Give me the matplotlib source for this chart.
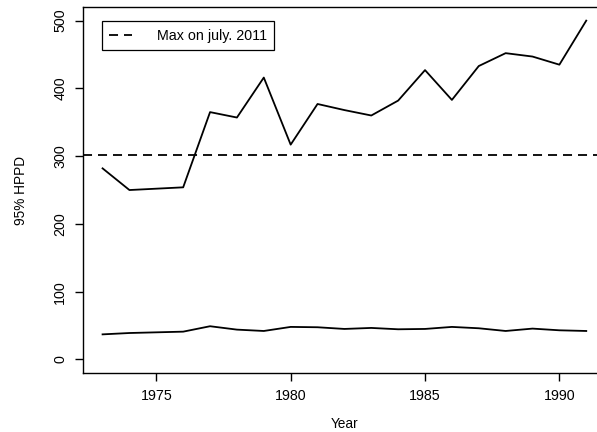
import numpy as np
import matplotlib
matplotlib.use('Agg')
import matplotlib.pyplot as plt

plt.rcParams['font.family'] = 'Liberation Sans'
plt.rcParams['lines.scale_dashes'] = False

years = list(range(1973, 1992))
upper_hppd = [282, 250, 252, 254, 365, 357, 416, 317, 377, 368, 360, 382,
              427, 383, 433, 452, 447, 435, 500]
lower_hppd = [37, 39, 40, 41, 49, 44, 42, 48, 47.5, 45, 46.5, 44.5,
              45, 48, 46, 42, 45.5, 43, 42]
max_july_2011 = 301

fig = plt.figure(figsize=(5.97, 4.32), dpi=100)
ax = fig.add_axes([0.1394, 0.1366, 0.875, 0.847])

ax.plot(years, upper_hppd, color='black', lw=1.3)
ax.plot(years, lower_hppd, color='black', lw=1.3)
ax.axhline(max_july_2011, color='black', lw=1.3, dashes=(6.5, 4.3),
           label='Max on july. 2011')

# R-style 4% padding around the data range
ax.set_xlim(1973 - 0.72, 1991 + 0.72)
ax.set_ylim(-20, 520)
ax.set_xticks([1975, 1980, 1985, 1990])
ax.set_yticks([0, 100, 200, 300, 400, 500])
ax.tick_params(direction='out', length=5.5, width=1, labelsize=10.3, pad=6)
for lab in ax.get_yticklabels():
    lab.set_rotation(90)
    lab.set_va('center')
for sp in ax.spines.values():
    sp.set_linewidth(1)
ax.spines['right'].set_visible(False)

ax.set_xlabel('Year', fontsize=9.8, labelpad=10)
ax.set_ylabel('95% HPPD', fontsize=9.8, labelpad=18)

leg = ax.legend(loc='upper left', bbox_to_anchor=(0.0365, 0.961), fontsize=10.3,
                fancybox=False, framealpha=1, edgecolor='black',
                handlelength=1.6, handletextpad=1.7, borderpad=0.5,
                borderaxespad=0)
leg.get_frame().set_linewidth(0.9)

fig.savefig('out.png', dpi=100)
